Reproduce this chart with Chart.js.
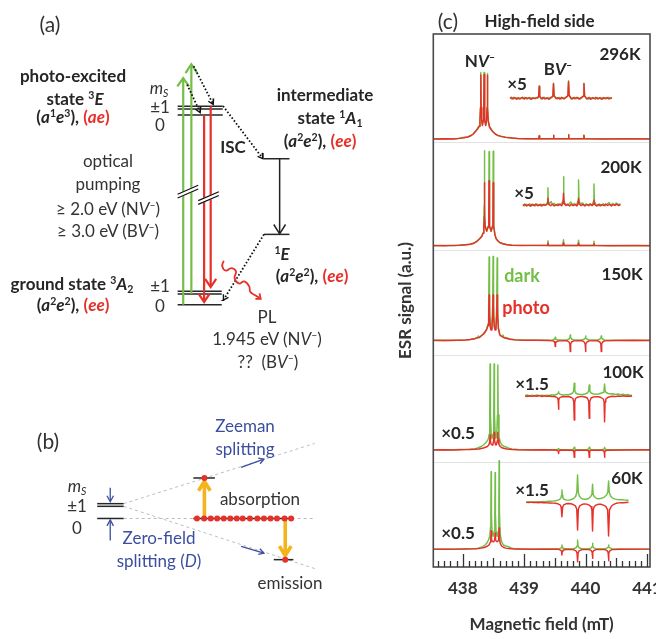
<!DOCTYPE html>
<html><head><meta charset="utf-8">
<script src="https://cdn.jsdelivr.net/npm/chart.js@4.4.1/dist/chart.umd.min.js"></script>
<style>
html,body{margin:0;padding:0;overflow:hidden;background:#fff}
#wrap{position:relative;width:656px;height:639px;overflow:hidden}
canvas{position:absolute;top:0}
#labels{position:absolute;left:0;top:0;width:656px;height:639px;z-index:2}
.l{position:absolute;transform:translate(-50%,-50%);white-space:nowrap;font-family:Lato,sans-serif;line-height:1;color:#333;font-size:17px}
.l.b{font-weight:bold;color:#262626}
.l .r,.l.r{color:#e6302a}
.l.g{color:#73be46}
.l.u{color:#3b4ea0}
.l sup{font-size:0.62em;vertical-align:0.55em;line-height:0}
.l sub{font-size:0.62em;vertical-align:-0.3em;line-height:0}
</style></head><body>
<div id="wrap">
<canvas id="c1" width="420" height="639" style="left:0"></canvas>
<canvas id="c2" width="296" height="639" style="left:380px"></canvas>
<div id="labels"></div>
</div>
<script>
// ===================== DATA: panel (c) ESR spectra =====================
const temps = ['296K','200K','150K','100K','60K'];
const panelBaselines = [42.8, 32.13, 22.65, 11.7, 1.77];     // a.u. offsets of each trace
const insetOffsets   = [4.07, 4.07, null, 5.4, 4.7];          // magnified trace, above its baseline
const panelSeparators = [42.45, 31.6, 21.1, 10.5];
const fieldMin = 437.52, fieldMax = 441.05, signalMax = 53.3;
const fieldTicks = [438, 439, 440, 441];

const dark296 = [[437.52,0.02],[437.65,0],[437.8,0.03],[437.92,0.05],[438.0,0.15],[438.08,0.2],[438.12,0.3],[438.17,0.5],[438.21,0.8],[438.24,1.05],[438.265,1.3],[438.28,1.9],[438.289,3.2],[438.294,6.65],[438.299,3.2],[438.309,1.9],[438.32,1.4],[438.333,1.9],[438.342,3.2],[438.347,6.65],[438.352,3.2],[438.362,1.9],[438.374,1.4],[438.387,1.9],[438.396,3.2],[438.401,6.55],[438.406,3.2],[438.416,1.8],[438.435,1.25],[438.46,1.0],[438.49,0.75],[438.53,0.5],[438.57,0.35],[438.62,0.28],[438.7,0.17],[438.8,0.1],[438.9,0.05],[439.05,0.03],[439.238,0.03],[439.245,0.35],[439.252,0.03],[439.471,0.03],[439.478,0.4],[439.485,0.03],[439.716,0.03],[439.723,0.45],[439.73,0.03],[439.967,0.03],[439.974,0.4],[439.981,0.03],[440.3,0.02],[440.7,0],[441.05,0.02]];
const photo296 = [[437.52,0],[437.7,0.02],[437.85,0],[437.95,0.06],[438.02,0.13],[438.08,0.2],[438.13,0.32],[438.17,0.5],[438.21,0.78],[438.24,1.0],[438.265,1.25],[438.28,1.85],[438.289,3.1],[438.294,6.4],[438.299,3.1],[438.309,1.85],[438.32,1.35],[438.333,1.85],[438.342,3.1],[438.347,6.45],[438.352,3.1],[438.362,1.85],[438.374,1.35],[438.387,1.85],[438.396,3.1],[438.401,6.35],[438.406,3.1],[438.416,1.75],[438.435,1.2],[438.46,0.95],[438.49,0.72],[438.53,0.5],[438.57,0.36],[438.62,0.26],[438.7,0.16],[438.8,0.1],[438.9,0.04],[439.05,0.02],[439.238,0.02],[439.245,0.3],[439.252,0.02],[439.471,0.02],[439.478,0.35],[439.485,0.02],[439.716,0.02],[439.723,0.4],[439.73,0.02],[439.967,0.02],[439.974,0.35],[439.981,0.02],[440.3,0],[440.7,0.02],[441.05,0]];
const dark296x5 = [[438.77,0.05],[438.80,-0.08],[438.83,0.1],[438.86,-0.05],[438.89,0.08],[438.92,-0.1],[438.95,0.06],[438.98,-0.04],[439.01,0.1],[439.04,-0.07],[439.07,0.05],[439.10,-0.1],[439.13,0.08],[439.16,-0.03],[439.19,0.07],[439.22,0.0],[439.237,0.2],[439.245,1.25],[439.253,0.25],[439.27,0.05],[439.30,-0.08],[439.33,0.1],[439.36,-0.05],[439.39,0.07],[439.42,-0.06],[439.45,0.08],[439.468,0.25],[439.478,1.5],[439.488,0.3],[439.51,0.1],[439.54,-0.06],[439.57,0.09],[439.60,-0.08],[439.63,0.06],[439.66,-0.05],[439.69,0.1],[439.713,0.3],[439.723,1.75],[439.733,0.35],[439.76,0.05],[439.79,-0.08],[439.82,0.1],[439.85,-0.04],[439.88,0.07],[439.91,-0.09],[439.94,0.05],[439.964,0.25],[439.974,1.5],[439.984,0.3],[440.01,0.02],[440.04,-0.08],[440.07,0.09],[440.10,-0.06],[440.13,0.05],[440.16,-0.1],[440.19,0.08],[440.22,-0.03],[440.25,0.07],[440.28,-0.08],[440.31,0.06],[440.34,-0.05],[440.37,0.1],[440.40,-0.04],[440.43,0.06]];
const photo296x5 = [[438.77,0.0],[438.79,0.1],[438.82,-0.06],[438.85,0.08],[438.88,-0.1],[438.91,0.05],[438.94,-0.05],[438.97,0.1],[439.0,-0.08],[439.03,0.06],[439.06,-0.04],[439.09,0.08],[439.12,-0.09],[439.15,0.05],[439.18,-0.03],[439.21,0.08],[439.237,0.15],[439.245,1.15],[439.253,0.2],[439.28,-0.05],[439.31,0.09],[439.34,-0.07],[439.37,0.05],[439.40,-0.1],[439.43,0.07],[439.468,0.2],[439.478,1.45],[439.488,0.25],[439.52,-0.04],[439.55,0.08],[439.58,-0.08],[439.61,0.1],[439.64,-0.05],[439.67,0.06],[439.713,0.25],[439.723,1.65],[439.733,0.3],[439.77,-0.07],[439.80,0.08],[439.83,-0.05],[439.86,0.1],[439.89,-0.08],[439.92,0.04],[439.964,0.2],[439.974,1.45],[439.984,0.25],[440.02,-0.06],[440.05,0.08],[440.08,-0.1],[440.11,0.06],[440.14,-0.03],[440.17,0.09],[440.20,-0.07],[440.23,0.05],[440.26,-0.09],[440.29,0.07],[440.32,-0.04],[440.35,0.08],[440.38,-0.06],[440.41,0.05],[440.43,0.0]];

const dark200 = [[437.52,0],[437.7,0.03],[437.85,0],[437.95,0.05],[438.05,0.1],[438.12,0.15],[438.17,0.24],[438.22,0.4],[438.25,0.57],[438.28,0.75],[438.31,0.97],[438.33,1.3],[438.343,2.0],[438.349,4.0],[438.353,9.5],[438.357,4.0],[438.365,2.0],[438.39,1.5],[438.415,2.0],[438.424,4.0],[438.428,9.4],[438.432,4.0],[438.44,2.0],[438.462,1.5],[438.484,2.0],[438.492,4.0],[438.496,9.45],[438.5,4.0],[438.508,2.0],[438.525,1.1],[438.543,0.73],[438.57,0.5],[438.608,0.3],[438.65,0.22],[438.717,0.12],[438.8,0.06],[438.95,0.03],[439.1,0.02],[439.377,0.03],[439.387,0.5],[439.397,0.03],[439.631,0.03],[439.641,0.6],[439.651,0.03],[439.876,0.03],[439.886,0.55],[439.896,0.03],[440.127,0.03],[440.137,0.45],[440.147,0.03],[440.4,0.02],[440.8,0],[441.05,0.02]];
const photo200 = [[437.52,0.02],[437.7,0],[437.85,0.03],[437.95,0.04],[438.05,0.1],[438.12,0.14],[438.17,0.22],[438.22,0.38],[438.25,0.55],[438.28,0.72],[438.31,0.93],[438.33,1.25],[438.343,1.9],[438.349,2.9],[438.353,6.3],[438.357,2.9],[438.365,1.9],[438.39,1.45],[438.415,1.9],[438.424,3.0],[438.428,6.5],[438.432,3.0],[438.44,1.9],[438.462,1.45],[438.484,1.9],[438.492,2.9],[438.496,6.3],[438.5,2.9],[438.508,1.9],[438.525,1.05],[438.543,0.7],[438.57,0.48],[438.608,0.3],[438.65,0.2],[438.717,0.1],[438.8,0.05],[438.95,0.02],[439.1,0.03],[439.377,0.02],[439.387,0.25],[439.397,0.02],[439.631,0.02],[439.641,0.3],[439.651,0.02],[439.876,0.02],[439.886,0.25],[439.896,0.02],[440.127,0.02],[440.137,0.2],[440.147,0.02],[440.4,0],[440.8,0.02],[441.05,0]];
const dark200x5 = [[438.98,0.05],[439.0,-0.1],[439.03,0.08],[439.06,-0.06],[439.09,0.12],[439.12,-0.08],[439.15,0.06],[439.18,-0.1],[439.21,0.09],[439.24,-0.05],[439.27,0.1],[439.3,-0.07],[439.33,0.08],[439.36,0.0],[439.38,0.3],[439.387,1.73],[439.394,0.35],[439.41,0.1],[439.44,0.35],[439.46,0.05],[439.49,0.15],[439.52,-0.06],[439.55,0.12],[439.58,0.0],[439.61,0.15],[439.633,0.4],[439.641,2.83],[439.649,0.45],[439.67,0.12],[439.7,-0.05],[439.73,0.1],[439.76,0.3],[439.79,0.02],[439.82,0.15],[439.85,-0.04],[439.878,0.4],[439.886,2.5],[439.894,0.4],[439.92,0.1],[439.95,0.2],[439.98,-0.05],[440.01,0.12],[440.04,0.0],[440.07,0.1],[440.1,-0.06],[440.129,0.35],[440.137,2.1],[440.145,0.35],[440.17,0.05],[440.2,-0.08],[440.23,0.1],[440.26,-0.04],[440.29,0.12],[440.32,-0.07],[440.35,0.08],[440.38,0.25],[440.41,-0.03],[440.44,0.15],[440.47,0.0],[440.5,0.2],[440.53,0.05],[440.57,0.1]];
const photo200x5 = [[438.98,-0.05],[439.01,0.08],[439.04,-0.1],[439.07,0.05],[439.1,-0.12],[439.13,0.07],[439.16,-0.06],[439.19,0.1],[439.22,-0.08],[439.25,0.04],[439.28,-0.1],[439.31,0.06],[439.34,-0.05],[439.377,0.1],[439.387,0.67],[439.397,0.1],[439.43,-0.08],[439.46,0.07],[439.49,-0.1],[439.52,0.05],[439.55,-0.06],[439.58,0.09],[439.61,-0.08],[439.631,0.15],[439.641,1.17],[439.651,0.15],[439.68,-0.04],[439.71,0.08],[439.74,-0.1],[439.77,0.06],[439.8,-0.07],[439.83,0.05],[439.86,-0.09],[439.876,0.1],[439.886,0.67],[439.896,0.1],[439.93,-0.06],[439.96,0.08],[439.99,-0.1],[440.02,0.05],[440.05,-0.07],[440.08,0.09],[440.11,-0.05],[440.127,0.08],[440.137,0.5],[440.147,0.08],[440.18,-0.1],[440.21,0.06],[440.24,-0.08],[440.27,0.05],[440.3,-0.06],[440.33,0.1],[440.36,-0.05],[440.39,0.07],[440.42,-0.09],[440.45,0.05],[440.48,-0.04],[440.51,0.08],[440.54,-0.06],[440.57,0.03]];

const dark150 = [[437.52,0],[437.7,0.03],[437.85,0],[437.95,0.04],[438.05,0.06],[438.12,0.1],[438.2,0.2],[438.24,0.3],[438.255,0.45],[438.27,0.3],[438.31,0.55],[438.34,0.7],[438.364,0.9],[438.39,1.2],[438.412,1.7],[438.422,3.5],[438.429,8.35],[438.436,3.5],[438.448,1.5],[438.461,1.2],[438.475,1.5],[438.487,3.5],[438.494,8.4],[438.501,3.5],[438.513,1.5],[438.527,1.2],[438.541,1.5],[438.553,3.5],[438.56,8.25],[438.567,3.5],[438.58,1.3],[438.6,0.7],[438.61,0.55],[438.64,0.4],[438.655,0.55],[438.67,0.3],[438.69,0.3],[438.77,0.15],[438.85,0.08],[439.0,0.03],[439.2,0.02],[439.4,0.02],[439.46,0.05],[439.49,0.12],[439.5,0.2],[439.506,0.32],[439.512,0.2],[439.525,0.1],[439.56,0.05],[439.7,0.06],[439.73,0.15],[439.745,0.28],[439.751,0.55],[439.757,0.28],[439.772,0.15],[439.81,0.05],[439.95,0.06],[439.98,0.15],[439.994,0.25],[440.0,0.45],[440.006,0.25],[440.02,0.15],[440.06,0.05],[440.2,0.06],[440.235,0.15],[440.25,0.25],[440.256,0.45],[440.262,0.25],[440.277,0.15],[440.31,0.05],[440.5,0.02],[440.8,0],[441.05,0.02]];
const photo150 = [[437.52,0.02],[437.7,0],[437.85,0.03],[437.95,0.03],[438.05,0.05],[438.12,0.1],[438.2,0.18],[438.24,0.28],[438.27,0.3],[438.31,0.5],[438.34,0.65],[438.364,0.85],[438.39,1.1],[438.412,1.5],[438.422,2.5],[438.429,4.55],[438.436,2.5],[438.448,1.35],[438.461,1.05],[438.475,1.35],[438.487,2.5],[438.494,4.55],[438.501,2.5],[438.513,1.35],[438.527,1.05],[438.541,1.35],[438.553,2.5],[438.56,4.55],[438.567,2.5],[438.58,1.2],[438.6,0.65],[438.61,0.5],[438.64,0.38],[438.67,0.28],[438.69,0.25],[438.77,0.12],[438.85,0.06],[439.0,0.02],[439.2,0.02],[439.4,0.0],[439.47,-0.04],[439.49,-0.12],[439.5,-0.25],[439.506,-0.6],[439.512,-0.25],[439.525,-0.12],[439.56,-0.04],[439.7,-0.03],[439.73,-0.15],[439.744,-0.35],[439.751,-1.1],[439.758,-0.35],[439.772,-0.15],[439.81,-0.04],[439.95,-0.03],[439.978,-0.15],[439.993,-0.35],[440.0,-1.1],[440.007,-0.35],[440.022,-0.15],[440.06,-0.04],[440.2,-0.03],[440.234,-0.15],[440.249,-0.35],[440.256,-1.1],[440.263,-0.35],[440.278,-0.15],[440.31,-0.04],[440.5,0],[440.8,0.02],[441.05,0]];

const dark100 = [[437.52,0.02],[437.7,0],[437.85,0.03],[437.95,0.05],[438.05,0.06],[438.12,0.08],[438.2,0.12],[438.228,0.17],[438.26,0.25],[438.3,0.35],[438.336,0.5],[438.37,0.7],[438.39,0.83],[438.415,1.1],[438.432,1.6],[438.439,3.5],[438.445,8.6],[438.451,3.5],[438.463,1.6],[438.478,1.15],[438.493,1.6],[438.505,3.5],[438.511,8.6],[438.517,3.5],[438.528,1.6],[438.541,1.15],[438.554,1.6],[438.565,3.5],[438.571,8.5],[438.577,3.5],[438.59,1.4],[438.61,0.8],[438.636,0.5],[438.67,0.38],[438.72,0.27],[438.76,0.15],[438.8,0.1],[438.9,0.05],[439.1,0.02],[439.3,0.02],[439.52,0.03],[439.553,0.08],[439.56,0.15],[439.567,0.08],[439.6,0.03],[439.78,0.04],[439.807,0.1],[439.816,0.27],[439.825,0.1],[439.85,0.04],[440.02,0.04],[440.051,0.1],[440.06,0.27],[440.069,0.1],[440.1,0.04],[440.27,0.04],[440.301,0.1],[440.31,0.27],[440.319,0.1],[440.35,0.04],[440.6,0.02],[441.05,0]];
const photo100 = [[437.52,0],[437.7,0.02],[437.85,0],[437.95,0.03],[438.05,0.04],[438.12,0.05],[438.2,0.07],[438.26,0.1],[438.3,0.15],[438.336,0.2],[438.37,0.28],[438.4,0.35],[438.425,0.5],[438.438,0.8],[438.445,1.5],[438.452,0.8],[438.465,0.55],[438.478,0.5],[438.492,0.6],[438.504,0.95],[438.511,1.77],[438.518,0.95],[438.53,0.6],[438.541,0.5],[438.552,0.6],[438.564,0.95],[438.571,1.77],[438.578,0.95],[438.59,0.55],[438.61,0.35],[438.64,0.22],[438.68,0.15],[438.72,0.1],[438.8,0.05],[438.9,0.02],[439.1,0],[439.3,0.02],[439.52,0],[439.55,-0.08],[439.556,-0.15],[439.56,-0.35],[439.564,-0.15],[439.57,-0.08],[439.6,0],[439.78,-0.02],[439.805,-0.1],[439.811,-0.25],[439.816,-0.73],[439.821,-0.25],[439.827,-0.1],[439.85,-0.02],[440.02,-0.02],[440.049,-0.1],[440.055,-0.25],[440.06,-0.73],[440.065,-0.25],[440.071,-0.1],[440.1,-0.02],[440.27,-0.02],[440.299,-0.1],[440.305,-0.25],[440.31,-0.73],[440.315,-0.25],[440.321,-0.1],[440.35,-0.02],[440.6,0],[441.05,0.02]];
const dark100x15 = [[439.016,0.05],[439.05,0.1],[439.09,0.0],[439.13,0.08],[439.17,0.02],[439.21,0.1],[439.25,0.03],[439.29,0.09],[439.33,0.02],[439.37,0.08],[439.41,0.05],[439.45,0.12],[439.49,0.08],[439.52,0.15],[439.545,0.22],[439.555,0.3],[439.56,0.43],[439.565,0.3],[439.575,0.22],[439.6,0.15],[439.64,0.1],[439.68,0.14],[439.72,0.12],[439.76,0.2],[439.79,0.3],[439.806,0.5],[439.816,1.27],[439.826,0.5],[439.84,0.3],[439.87,0.2],[439.91,0.15],[439.95,0.15],[439.99,0.2],[440.03,0.3],[440.05,0.48],[440.06,1.1],[440.07,0.48],[440.09,0.3],[440.13,0.2],[440.17,0.18],[440.21,0.2],[440.25,0.28],[440.285,0.35],[440.3,0.55],[440.31,1.2],[440.32,0.55],[440.335,0.35],[440.37,0.25],[440.41,0.2],[440.45,0.22],[440.49,0.15],[440.53,0.2],[440.57,0.12],[440.61,0.18],[440.65,0.1],[440.69,0.15],[440.73,0.05],[440.757,0.08]];
const photo100x15 = [[439.016,0],[439.05,-0.05],[439.09,0.03],[439.13,-0.04],[439.17,0.02],[439.21,-0.03],[439.25,0.04],[439.29,-0.05],[439.33,0.02],[439.37,-0.04],[439.41,0.0],[439.45,-0.06],[439.49,-0.05],[439.52,-0.1],[439.545,-0.2],[439.553,-0.4],[439.56,-1.33],[439.567,-0.4],[439.575,-0.2],[439.6,-0.1],[439.64,-0.05],[439.68,-0.08],[439.72,-0.05],[439.76,-0.12],[439.795,-0.25],[439.808,-0.6],[439.816,-2.4],[439.824,-0.6],[439.837,-0.25],[439.87,-0.12],[439.91,-0.06],[439.95,-0.05],[439.99,-0.1],[440.03,-0.2],[440.052,-0.55],[440.06,-2.23],[440.068,-0.55],[440.09,-0.2],[440.13,-0.1],[440.17,-0.06],[440.21,-0.08],[440.25,-0.15],[440.29,-0.3],[440.302,-0.6],[440.31,-2.57],[440.318,-0.6],[440.33,-0.3],[440.37,-0.12],[440.41,-0.05],[440.45,-0.02],[440.49,-0.06],[440.53,0.0],[440.57,-0.04],[440.61,0.02],[440.65,-0.03],[440.69,0.0],[440.73,-0.04],[440.757,0]];

const dark60 = [[437.52,0],[437.7,0.02],[437.85,0],[437.95,0.03],[438.05,0.04],[438.15,0.05],[438.2,0.07],[438.254,0.1],[438.3,0.2],[438.33,0.3],[438.364,0.43],[438.39,0.6],[438.418,0.93],[438.44,1.3],[438.452,2.2],[438.457,3.5],[438.462,7.76],[438.467,3.5],[438.477,1.8],[438.494,1.3],[438.511,1.8],[438.522,3.5],[438.527,7.66],[438.532,3.5],[438.542,1.8],[438.56,1.3],[438.576,1.8],[438.587,3.8],[438.592,8.86],[438.597,3.8],[438.608,1.6],[438.63,0.8],[438.662,0.43],[438.7,0.33],[438.744,0.27],[438.78,0.15],[438.826,0.05],[438.9,0.03],[439.1,0.02],[439.3,0.03],[439.56,0.04],[439.6,0.12],[439.608,0.2],[439.615,0.43],[439.622,0.2],[439.63,0.12],[439.67,0.05],[439.8,0.06],[439.845,0.15],[439.862,0.35],[439.87,0.93],[439.878,0.35],[439.895,0.15],[439.94,0.06],[440.06,0.06],[440.095,0.15],[440.107,0.28],[440.114,0.6],[440.121,0.28],[440.133,0.15],[440.17,0.06],[440.32,0.06],[440.355,0.14],[440.368,0.22],[440.375,0.43],[440.382,0.22],[440.395,0.14],[440.43,0.06],[440.6,0.03],[441.05,0.02]];
const photo60 = [[437.52,0.02],[437.7,0],[437.85,0.02],[437.95,0.02],[438.05,0.03],[438.15,0.04],[438.2,0.05],[438.254,0.08],[438.3,0.12],[438.35,0.18],[438.4,0.3],[438.43,0.45],[438.448,0.7],[438.456,1.0],[438.462,1.86],[438.468,1.0],[438.48,0.8],[438.494,0.76],[438.508,0.8],[438.52,0.95],[438.527,1.63],[438.534,0.95],[438.546,0.8],[438.56,0.76],[438.574,0.85],[438.585,1.1],[438.592,2.13],[438.599,1.1],[438.61,0.6],[438.63,0.35],[438.66,0.2],[438.7,0.12],[438.78,0.06],[438.9,0.03],[439.1,0],[439.3,0.02],[439.56,0],[439.6,-0.1],[439.609,-0.22],[439.615,-0.57],[439.621,-0.22],[439.63,-0.1],[439.67,-0.02],[439.8,-0.03],[439.845,-0.15],[439.862,-0.38],[439.87,-1.24],[439.878,-0.38],[439.895,-0.15],[439.94,-0.03],[440.06,-0.03],[440.095,-0.13],[440.107,-0.3],[440.114,-0.9],[440.121,-0.3],[440.133,-0.13],[440.17,-0.03],[440.32,-0.03],[440.355,-0.15],[440.368,-0.35],[440.375,-1.14],[440.382,-0.35],[440.395,-0.15],[440.43,-0.03],[440.6,0],[441.05,0.02]];
const dark60x15 = [[439.033,0.02],[439.07,0.06],[439.11,0.0],[439.15,0.05],[439.19,0.02],[439.23,0.06],[439.27,0.04],[439.31,0.08],[439.35,0.05],[439.39,0.1],[439.43,0.1],[439.47,0.12],[439.51,0.15],[439.55,0.22],[439.58,0.3],[439.6,0.45],[439.608,0.7],[439.615,1.23],[439.622,0.7],[439.63,0.45],[439.65,0.3],[439.69,0.22],[439.73,0.22],[439.77,0.28],[439.81,0.4],[439.84,0.6],[439.858,1.0],[439.87,2.73],[439.882,1.0],[439.9,0.6],[439.93,0.4],[439.97,0.3],[440.01,0.3],[440.05,0.38],[440.08,0.55],[440.104,0.8],[440.114,1.8],[440.124,0.8],[440.145,0.55],[440.18,0.38],[440.22,0.35],[440.26,0.4],[440.3,0.5],[440.34,0.7],[440.363,1.0],[440.375,2.13],[440.387,1.0],[440.41,0.6],[440.44,0.42],[440.48,0.32],[440.52,0.28],[440.56,0.25],[440.6,0.25],[440.64,0.22],[440.68,0.2],[440.70,0.2]];
const photo60x15 = [[439.033,0],[439.07,-0.03],[439.11,0.02],[439.15,-0.03],[439.19,0.0],[439.23,-0.04],[439.27,0.0],[439.31,-0.05],[439.35,-0.03],[439.39,-0.06],[439.43,-0.06],[439.47,-0.08],[439.51,-0.1],[439.55,-0.15],[439.585,-0.25],[439.603,-0.5],[439.615,-1.44],[439.627,-0.5],[439.645,-0.25],[439.68,-0.15],[439.72,-0.12],[439.76,-0.15],[439.8,-0.22],[439.835,-0.35],[439.857,-0.7],[439.87,-2.77],[439.883,-0.7],[439.905,-0.35],[439.94,-0.22],[439.98,-0.16],[440.02,-0.18],[440.06,-0.28],[440.09,-0.45],[440.104,-0.8],[440.114,-2.87],[440.124,-0.8],[440.14,-0.45],[440.17,-0.28],[440.21,-0.2],[440.25,-0.2],[440.29,-0.28],[440.33,-0.4],[440.36,-0.75],[440.375,-3.37],[440.39,-0.75],[440.42,-0.4],[440.46,-0.2],[440.5,-0.1],[440.54,-0.06],[440.58,-0.03],[440.62,-0.05],[440.66,-0.02],[440.70,0]];

const darkMain  = [dark296, dark200, dark150, dark100, dark60];
const photoMain = [photo296, photo200, photo150, photo100, photo60];
const darkMag   = [dark296x5, dark200x5, null, dark100x15, dark60x15];
const photoMag  = [photo296x5, photo200x5, null, photo100x15, photo60x15];

// ===================== DATA: schematic panels (a),(b) =====================
const levelLines = [
  [[177,103.5],[223,103.5]],[[177,106.3],[223,106.3]],[[177,112.3],[223,112.3]],
  [[177,291],[222,291]],[[177,293.6],[222,293.6]],[[177,304.5],[222,304.5]],
  [[265,156.7],[291,156.7]],[[265,233.3],[291,233.3]],
  [[95,506],[122,506]],[[95,508.7],[122,508.7]],[[95,521],[122,521]],
  [[193,480],[215,480]],[[193,521],[295,521]],[[275,562.7],[295,562.7]]
];
const greenArrows = [
  [[182.7,304.5],[182.7,76]],[[176.7,83.5],[182.7,75],[188.7,83.5]],
  [[191,293.6],[191,62]],[[185,70],[191,61],[197,70]]
];
const redArrows = [
  [[204,112.3],[204,301]],[[198.3,293.3],[204,301.7],[209.7,293.3]],
  [[210.7,103.5],[210.7,286]],[[205,278.3],[210.7,286.7],[216.3,278.3]]
];
const breakMasks = [[[177,194.5],[198,185.5]],[[198,201],[219,192]]];
const breakLines = [
  [[177,192.6],[198,183.6]],[[177,196.4],[198,187.4]],
  [[198,199.1],[219,190.1]],[[198,202.9],[219,193.9]]
];
const dottedShafts = [
  [[186.7,81.7],[200,110]],[[193.3,63],[213.3,101.7]],
  [[223.3,103.3],[264,156.7]],[[265,233.3],[223.5,300]]
];
const dottedHeads = [
  [[200.5,104],[200,110],[195.1,106.6]],
  [[213.6,95.7],[213.3,101.7],[208.25,98.5]],
  [[263.2,150.8],[264,156.7],[258.5,154.4]],
  [[228.8,297.2],[223.5,300],[223.7,294]]
];
const blackArrow = [[[281,157],[281,232]],[[275,223.3],[281,232.7],[287,223.3]]];
const plWave = [[224,260],[222.5,265.5],[226,270],[232,267.5],[236.5,271],[235,277.5],[239.5,283],[245,281],[250,286],[251,291.5],[256,295],[260.5,297.5]];
const plHead = [[256.3,298.7],[261.7,298.6],[260.5,293]];
const zeemanGuides = [
  [[122,506],[316.7,445]],[[122,508.7],[316.7,571.7]],[[122,521],[316.7,521]]
];
const blueArrows = [
  [[108.3,490],[108.3,503.5]],[[105,498],[108.3,504],[111.6,498]],
  [[108.3,543.3],[108.3,523]],[[105,528.5],[108.3,522.5],[111.6,528.5]],
  [[241.7,469.3],[265,461]],[[259.1,459.9],[265,461],[261.1,465.6]],
  [[241.7,549.3],[265,556]],[[260.8,551.7],[265,556],[259.2,557.45]]
];
const orangeArrows = [
  [[204.3,520],[204.3,486]],[[198.3,493],[204.3,483.5],[210.3,493]],
  [[286.7,522],[286.7,556]],[[280.7,549],[286.7,558.5],[292.7,549]]
];
const spinDots = [[204.3,480],[286.7,562.7],[196.7,521],[204,521],[210.7,521],[217.3,521],[224,521],[230.7,521],[237.3,521],[243.3,521],[250.7,521],[258.3,521],[265,521],[271.7,521],[278.3,521],[286,521],[292.7,521]];

// ===================== colours =====================
const GREEN = '#73be46', RED = '#e6302a', BLUE = '#3b4ea0', ORANGE = '#f3b41c', INK = '#262626';

Chart.defaults.font.family = 'Lato';

// ---------- chart 1: schematic ----------
const ds1 = [];
function addPolys(list, style) {
  list.forEach(poly => ds1.push(Object.assign({
    data: poly.map(p => ({x: p[0], y: p[1]})),
    showLine: true, pointRadius: 0, fill: false, borderJoinStyle: 'miter',
    order: -ds1.length
  }, style)));
}
addPolys(zeemanGuides, {borderColor: '#bdbdbd', borderWidth: 1, borderDash: [3, 3]});
addPolys(levelLines, {borderColor: INK, borderWidth: 1.5});
addPolys(greenArrows, {borderColor: GREEN, borderWidth: 2.2});
addPolys(redArrows, {borderColor: RED, borderWidth: 2.2});
addPolys(breakMasks, {borderColor: '#ffffff', borderWidth: 4.5});
addPolys(breakLines, {borderColor: '#111', borderWidth: 1.2});
addPolys(dottedShafts, {borderColor: '#111', borderWidth: 1.8, borderDash: [1.6, 2.0]});
addPolys(dottedHeads, {borderColor: '#111', borderWidth: 1.4});
addPolys(blackArrow, {borderColor: '#222', borderWidth: 1.5});
addPolys([plWave], {borderColor: RED, borderWidth: 1.8, tension: 0.45});
addPolys([plHead], {borderColor: RED, borderWidth: 1.8});
addPolys(blueArrows, {borderColor: BLUE, borderWidth: 1.3});
addPolys(orangeArrows, {borderColor: ORANGE, borderWidth: 3.6});
ds1.push({data: spinDots.map(p => ({x: p[0], y: p[1]})), showLine: false, pointRadius: 3,
  pointBackgroundColor: RED, pointBorderWidth: 0, order: -ds1.length});

new Chart(document.getElementById('c1'), {
  type: 'scatter',
  data: {datasets: ds1},
  options: {
    responsive: false, animation: false, events: [],
    layout: {padding: 0},
    plugins: {legend: {display: false}, tooltip: {enabled: false}},
    scales: {
      x: {type: 'linear', min: 0, max: 420, display: false},
      y: {type: 'linear', min: 0, max: 639, reverse: true, display: false}
    }
  }
});

// ---------- chart 2: ESR spectra ----------
const ds2 = [];
function addTrace(arr, base, color) {
  ds2.push({data: arr.map(p => ({x: p[0], y: base + p[1]})), showLine: true, pointRadius: 0,
    borderColor: color, borderWidth: 1.45, fill: false, borderJoinStyle: 'round',
    order: -ds2.length});
}
temps.forEach((t, i) => {
  const b = panelBaselines[i];
  addTrace(darkMain[i], b, GREEN);
  addTrace(photoMain[i], b, RED);
  if (darkMag[i]) {
    addTrace(darkMag[i], b + insetOffsets[i], GREEN);
    addTrace(photoMag[i], b + insetOffsets[i], RED);
  }
});

const framePlugin = {
  id: 'frame',
  afterDatasetsDraw(chart) {
    const {ctx, chartArea: a, scales: {x}} = chart;
    ctx.save();
    ctx.strokeStyle = '#4a4a4a';
    ctx.lineWidth = 1.6;
    ctx.strokeRect(a.left, a.top, a.right - a.left, a.bottom - a.top);
    ctx.strokeStyle = '#333';
    ctx.lineWidth = 1.3;
    for (let k = Math.ceil(fieldMin * 10); k <= Math.floor(fieldMax * 10); k++) {
      const px = Math.round(x.getPixelForValue(k / 10)) + 0.5;
      const len = k % 10 === 0 ? 13 : (k % 5 === 0 ? 9 : 6);
      ctx.beginPath();
      ctx.moveTo(px, a.bottom);
      ctx.lineTo(px, a.bottom - len);
      ctx.stroke();
    }
    ctx.restore();
  }
};

new Chart(document.getElementById('c2'), {
  type: 'scatter',
  data: {datasets: ds2},
  options: {
    responsive: false, animation: false, events: [],
    layout: {padding: {left: 15.3, top: 34, right: 26, bottom: 3.8}},
    plugins: {legend: {display: false}, tooltip: {enabled: false}},
    scales: {
      x: {
        type: 'linear', min: fieldMin, max: fieldMax, position: 'bottom',
        afterBuildTicks: ax => { ax.ticks = fieldTicks.map(v => ({value: v})); },
        grid: {display: false, drawTicks: false}, border: {display: false},
        ticks: {font: {size: 17, weight: 'bold'}, color: '#333', padding: 11, maxRotation: 0, autoSkip: false},
        title: {display: true, text: 'Magnetic field (mT)', color: '#333',
          font: {size: 17, weight: 'bold'}, padding: {top: 5.4, bottom: 0}}
      },
      y: {
        type: 'linear', min: 0, max: signalMax, position: 'left',
        afterBuildTicks: ax => { ax.ticks = panelSeparators.map(v => ({value: v})); },
        grid: {color: '#e3e3e3', lineWidth: 1, drawTicks: false}, border: {display: false},
        ticks: {display: false},
        title: {display: true, text: 'ESR signal (a.u.)', color: '#333',
          font: {size: 17, weight: 'bold'}, padding: {top: 0, bottom: 17.6}}
      }
    }
  },
  plugins: [framePlugin]
});

// ===================== text labels =====================
const EE = '(<i>a</i><sup>2</sup><i>e</i><sup>2</sup>), <span class="r">(<i>ee</i>)</span>';
const labels = [
  ['(a)', 50, 23, '', 21],
  ['photo-excited', 73, 75, 'b'],
  ['state <sup>3</sup><i>E</i>', 75, 98, 'b'],
  ['(<i>a</i><sup>1</sup><i>e</i><sup>3</sup>), <span class="r">(<i>ae</i>)</span>', 73, 116, 'b'],
  ['<i>m<sub>S</sub></i>', 159, 87, ''],
  ['±1', 160, 106, ''], ['0', 160, 124, ''],
  ['optical', 108, 160, ''], ['pumping', 108, 183, ''],
  ['≥ 2.0 eV (N<i>V</i><sup>–</sup>)', 108, 208, ''],
  ['≥ 3.0 eV (B<i>V</i><sup>–</sup>)', 108, 230, ''],
  ['±1', 160, 285, ''], ['0', 160, 305, ''],
  ['ground state <sup>3</sup><i>A</i><sub>2</sub>', 72, 283, 'b'],
  [EE, 73, 304, 'b'],
  ['intermediate', 325, 94, 'b'],
  ['state <sup>1</sup><i>A</i><sub>1</sub>', 330, 117, 'b'],
  [EE, 320, 140, 'b'],
  ['ISC', 233, 146, 'b'],
  ['<sup>1</sup><i>E</i>', 282, 253, 'b'],
  [EE, 312, 275, 'b'],
  ['PL', 267, 316, ''],
  ['1.945 eV (N<i>V</i><sup>–</sup>)', 267, 338, ''],
  ['??&nbsp;&nbsp;(B<i>V</i><sup>–</sup>)', 268, 361, ''],
  ['(b)', 48, 440, '', 21],
  ['<i>m<sub>S</sub></i>', 77, 485, ''],
  ['±1', 77, 505, ''], ['0', 77, 527, ''],
  ['Zeeman', 245, 425, 'u'], ['splitting', 245, 448, 'u'],
  ['absorption', 260, 498, ''],
  ['Zero-field', 159, 537, 'u'], ['splitting (<i>D</i>)', 159, 560, 'u'],
  ['emission', 290, 582, ''],
  ['(c)', 448, 20, '', 21],
  ['High-field side', 539.5, 20, 'b', 17],
  ['N<i>V</i><sup>–</sup>', 480, 60, 'b'],
  ['B<i>V</i><sup>–</sup>', 558, 68, 'b'],
  ['×5', 517, 83, 'b'],
  ['296K', 620, 53, 'b'],
  ['200K', 621, 166, 'b'],
  ['×5', 524, 192, 'b'],
  ['dark', 522, 275, 'b g', 18],
  ['photo', 526, 307, 'b r', 18],
  ['150K', 622, 273, 'b'],
  ['100K', 623, 371, 'b'],
  ['×1.5', 532, 383, 'b'],
  ['×0.5', 458, 432, 'b'],
  ['60K', 627, 477, 'b'],
  ['×1.5', 532, 489, 'b'],
  ['×0.5', 458, 532, 'b']
];
const holder = document.getElementById('labels');
labels.forEach(([h, x, y, cls, size]) => {
  const d = document.createElement('div');
  d.className = 'l ' + cls;
  d.innerHTML = h;
  d.style.left = x + 'px';
  d.style.top = y + 'px';
  if (size) d.style.fontSize = size + 'px';
  holder.appendChild(d);
});
</script>
</body></html>
